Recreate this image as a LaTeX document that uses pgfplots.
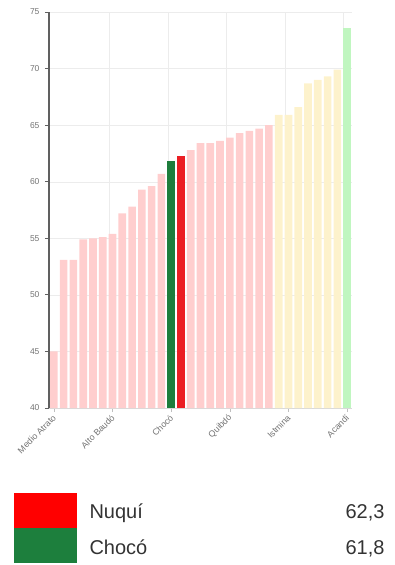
\documentclass[border=0pt]{standalone}
\usepackage{fontspec}
\setmainfont{Liberation Sans}
\usepackage{pgfplots}
\pgfplotsset{compat=1.18}
\definecolor{pinkbar}{RGB}{255,206,206}
\definecolor{yellowbar}{RGB}{253,242,204}
\definecolor{greenbar}{RGB}{192,246,192}
\definecolor{dkgreen}{RGB}{30,125,60}
\definecolor{redbar}{RGB}{235,30,35}
\definecolor{legred}{RGB}{255,0,0}
\definecolor{leggreen}{RGB}{29,127,61}
\definecolor{ticktext}{RGB}{115,115,115}
\begin{document}
\begin{tikzpicture}[x=1pt,y=1pt]
\path[use as bounding box] (0,0) rectangle (394,-565);
\begin{axis}[
  at={(49pt,-408pt)}, anchor=south west,
  scale only axis, width=303pt, height=396pt,
  xmin=-0.5, xmax=30.5, ymin=40, ymax=75,
  ytick={40,45,...,75},
  xtick={0,6,12,18,24,30},
  xticklabels={Medio Atrato, Alto Baudó, Chocó, Quibdó, Istmina, Acandí},
  x tick label style={xshift=3pt, yshift=-2pt, rotate=45, anchor=east, font=\fontsize{8.8}{10}\selectfont, text=ticktext},
  y tick label style={font=\fontsize{8.5}{10}\selectfont, text=ticktext, xshift=-2pt},
  /pgf/number format/assume math mode=true,
  axis lines=left,
  x axis line style={-, draw=gray!30},
  y axis line style={-, draw=gray!75!black, line width=1.1pt},
  ymajorgrids, grid style={gray!15},
  tick align=outside, major tick length=4pt,
  xtick style={draw=gray!50},
  ytick style={draw=gray!75!black, line width=0.8pt},
  extra x ticks={5.65,11.65,17.65,23.65,29.65},
  extra x tick labels={},
  extra x tick style={grid=major, major tick length=0pt},
  clip=true,
]
\addplot[ybar, bar width=0.78, bar shift=0pt, fill=pinkbar, draw=none] coordinates {
(0,45.0) (1,53.1) (2,53.1) (3,54.9) (4,55.0) (5,55.1) (6,55.4) (7,57.2) (8,57.8) (9,59.3) (10,59.6) (11,60.7)
(14,62.8) (15,63.4) (16,63.4) (17,63.6) (18,63.9) (19,64.3) (20,64.5) (21,64.7) (22,65.0)};
\addplot[ybar, bar width=0.78, bar shift=0pt, fill=yellowbar, draw=none] coordinates {
(23,65.9) (24,65.9) (25,66.6) (26,68.7) (27,69.0) (28,69.3) (29,69.9)};
\addplot[ybar, bar width=0.78, bar shift=0pt, fill=greenbar, draw=none] coordinates {(30,73.6)};
\addplot[ybar, bar width=0.78, bar shift=0pt, fill=dkgreen, draw=none] coordinates {(12,61.8)};
\addplot[ybar, bar width=0.78, bar shift=0pt, fill=redbar, draw=none] coordinates {(13,62.3)};
\end{axis}
\fill[legred] (14,-493) rectangle (77,-528);
\fill[leggreen] (14,-528) rectangle (77,-563);
\node[anchor=base west, text=black!80, font=\fontsize{20}{24}\selectfont] at (86,-518) {Nuquí};
\node[anchor=base west, text=black!80, font=\fontsize{20}{24}\selectfont] at (86,-554) {Chocó};
\node[anchor=base east, text=black!80, font=\fontsize{20}{24}\selectfont] at (388,-518) {62,3};
\node[anchor=base east, text=black!80, font=\fontsize{20}{24}\selectfont] at (388,-554) {61,8};
\end{tikzpicture}
\end{document}
